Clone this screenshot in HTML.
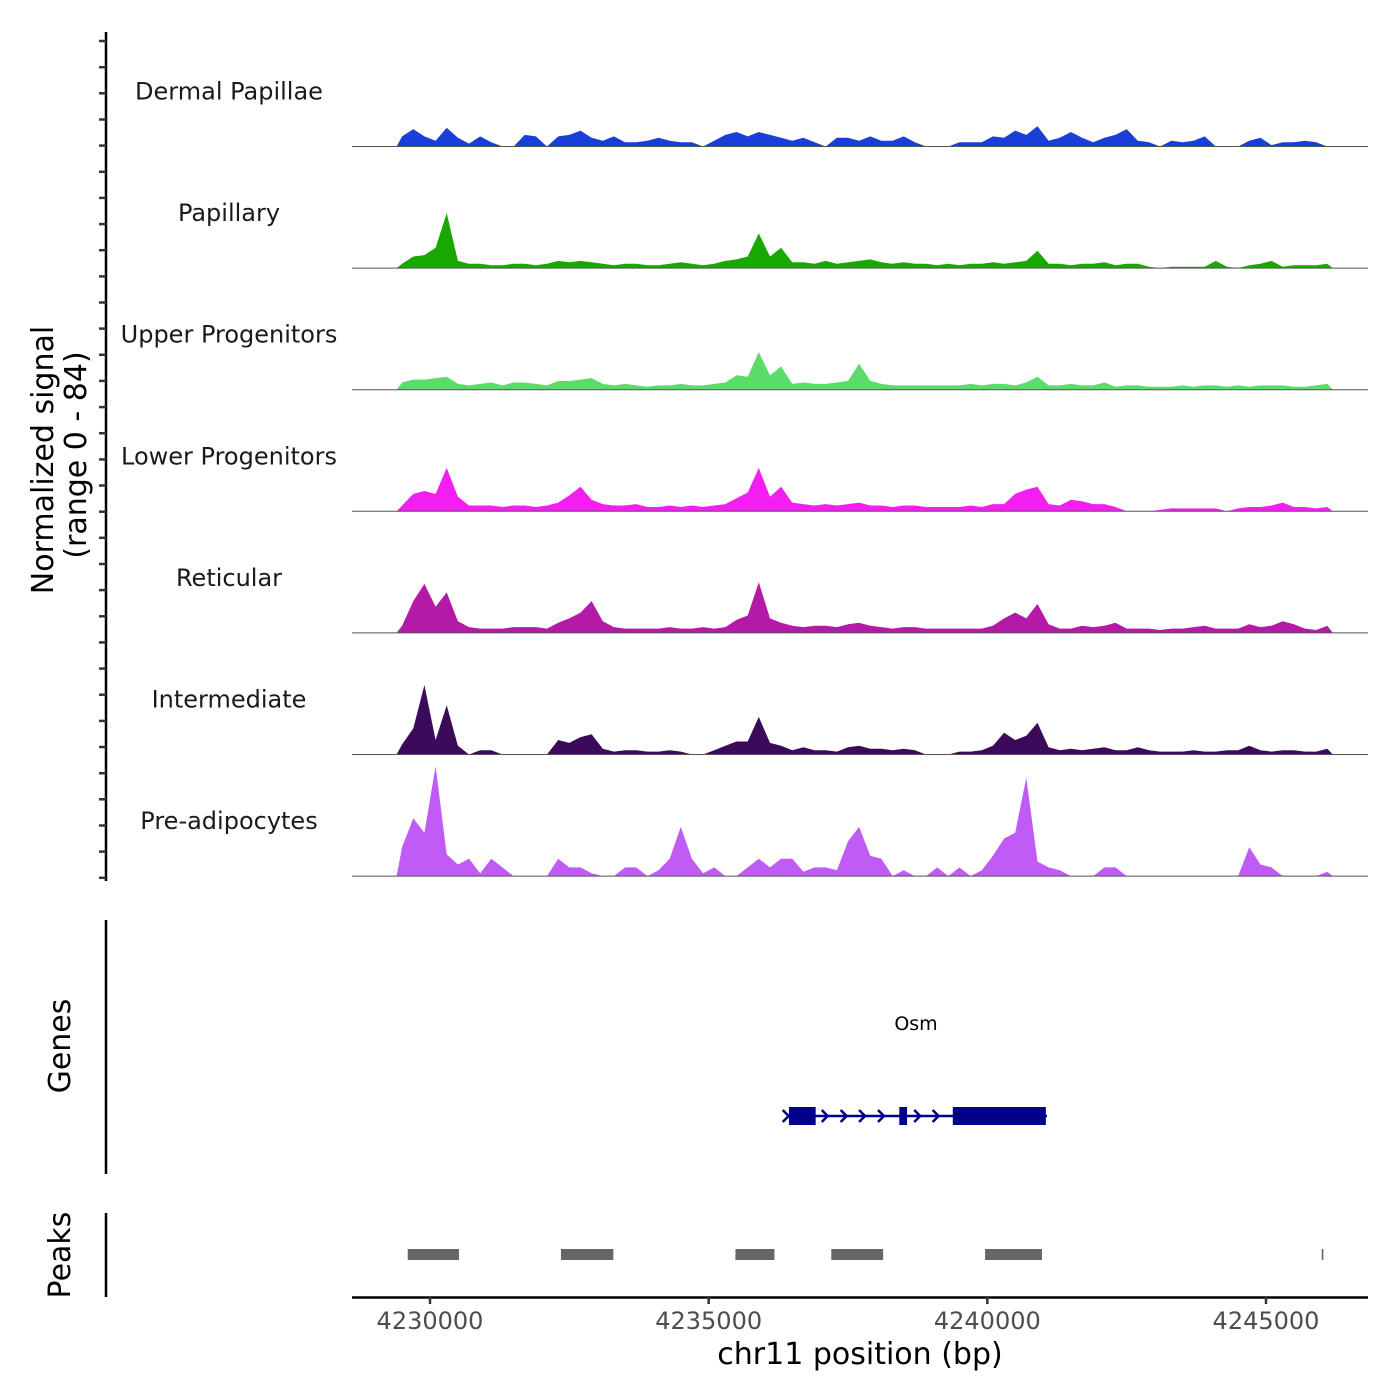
<!DOCTYPE html>
<html><head><meta charset="utf-8">
<style>
html,body{margin:0;padding:0;background:#fff;}
svg{display:block;font-family:"DejaVu Sans","Liberation Sans",sans-serif;}
</style></head>
<body>
<svg id="chart" width="1400" height="1400" viewBox="0 0 1400 1400" xmlns="http://www.w3.org/2000/svg">
<g id="tracks"></g>
<g id="axes"></g>
<g id="genes"></g>
<g id="peaks"></g>
</svg>
<script>
// ---- data ----
const binStart = 4229400;
const binSize = 200;
const trackNames = ["Dermal Papillae","Papillary","Upper Progenitors","Lower Progenitors","Reticular","Intermediate","Pre-adipocytes"];
const trackColors = ["#1a3fd9","#19a800","#5bdc6a","#f21ff0","#b519a8","#3b0b5a","#c05cf5"];
const dermalPapillae = [7,12,7,4,13,6,2,7,3,0,0,8,7,0,7,8,11,6,4,7,3,3,4,6,4,3,3,0,4,8,10,7,10,8,6,4,6,3,0,6,6,4,7,4,4,7,3,0,0,0,3,3,3,7,6,11,8,14,4,6,10,6,3,6,8,12,4,3,0,4,3,4,7,0,0,0,4,6,1,3,3,4,3,0];
const papillary = [3,8,9,14,38,5,3,3,2,2,3,3,2,3,5,4,5,4,3,2,3,3,2,2,3,4,3,2,3,5,6,8,24,8,14,4,4,3,5,3,4,5,6,4,3,4,3,3,2,3,2,3,3,4,3,4,5,12,3,3,2,3,3,4,2,3,3,1,0,1,1,1,1,5,1,0,2,3,5,1,2,2,2,3];
const upperProgenitors = [5,7,7,8,9,4,3,4,5,3,5,5,4,3,6,6,7,8,4,3,4,3,2,3,3,4,3,3,4,5,10,9,26,10,16,4,5,4,4,5,6,18,6,4,3,3,3,3,3,3,3,4,3,4,4,3,5,9,3,3,4,3,3,5,2,3,3,2,2,2,3,2,3,3,2,3,2,3,3,3,2,2,3,4];
const lowerProgenitors = [4,12,14,12,30,10,4,4,4,3,4,4,3,4,6,11,17,8,5,4,4,5,3,3,4,3,4,3,4,5,9,13,30,10,17,6,5,4,5,4,5,6,4,4,3,4,4,3,3,3,3,4,3,5,5,12,15,17,5,4,8,7,5,5,3,0,0,0,1,2,2,2,2,2,0,2,3,3,4,6,3,3,2,3];
const reticular = [5,22,34,18,28,8,4,3,3,3,4,4,4,3,7,10,14,22,8,4,3,3,3,3,4,3,3,4,3,4,9,12,35,10,7,5,4,5,5,4,6,7,5,4,3,4,4,3,3,3,3,3,3,5,10,14,10,20,6,3,3,5,4,5,7,3,3,3,2,3,3,4,5,3,3,3,6,4,5,8,6,3,2,5];
const intermediate = [7,18,48,10,34,6,0,3,3,0,0,0,0,0,10,8,12,14,4,2,3,3,2,2,3,2,0,0,3,6,9,9,26,8,6,3,5,3,3,2,5,6,4,4,3,4,3,0,0,0,2,2,3,6,15,10,13,22,5,3,4,3,4,5,3,3,5,3,2,2,2,3,2,2,3,3,6,3,2,3,3,2,2,4];
const preAdipocytes = [20,40,30,76,15,8,12,2,12,6,0,0,0,0,12,6,6,2,0,0,6,6,0,4,12,34,12,2,6,0,0,6,12,6,12,12,3,6,6,4,24,34,14,12,0,4,0,0,6,0,6,0,4,14,26,30,68,10,6,4,0,0,0,6,6,0,0,0,0,0,0,0,0,0,0,0,20,8,6,0,0,0,0,3];
const trackValues = [dermalPapillae,papillary,upperProgenitors,lowerProgenitors,reticular,intermediate,preAdipocytes];
const xTicks = [4230000,4235000,4240000,4245000];
const xTickLabels = ["4230000","4235000","4240000","4245000"];
const geneName = "Osm";
const geneStart = 4236400;
const geneEnd = 4241070;
const exonStarts = [4236440,4238420,4239380];
const exonEnds = [4236920,4238560,4241050];
const intronArrows = [4237100,4237440,4237770,4238110,4238760,4239090];
const peakStarts = [4229600,4232350,4235480,4237200,4239960,4246000];
const peakEnds = [4230520,4233290,4236180,4238130,4240980,4246030];

// ---- scales ----
const X0 = 430, PXBP = (1266-430)/15000;
function xs(bp){return X0+(bp-4230000)*PXBP;}
const trackH = 121.6, firstBase = 146.5, vmax = 84;
function ys(v,k){return firstBase+k*trackH - v/vmax*trackH;}
const NS="http://www.w3.org/2000/svg";
function mk(tag,attrs,parent){const e=document.createElementNS(NS,tag);for(const a in attrs)e.setAttribute(a,attrs[a]);parent.appendChild(e);return e;}

const gT=document.getElementById('tracks');
trackValues.forEach((vals,k)=>{
  const base=ys(0,k);
  let d=`M${xs(binStart).toFixed(1)},${base}`;
  vals.forEach((v,i)=>{const x=xs(binStart+binSize*(i+0.5));d+=` L${x.toFixed(1)},${ys(v,k).toFixed(1)}`;});
  d+=` L${xs(binStart+binSize*vals.length).toFixed(1)},${base} Z`;
  const p=mk('path',{d:d,fill:trackColors[k]},gT);
  
  
  const l=mk('line',{x1:352,x2:1368,y1:base,y2:base,stroke:'#555','stroke-width':1},gT);
  
  
  const t=mk('text',{x:229,y:base-55+8,'text-anchor':'middle','font-size':24,fill:'#1a1a1a'},gT);
  t.textContent=trackNames[k];
  
  
});

const gA=document.getElementById('axes');
mk('line',{x1:106,x2:106,y1:32,y2:881,stroke:'#000','stroke-width':2.5},gA);
for(let y=41;y<=878;y+=26.15){mk('line',{x1:99,x2:106,y1:y.toFixed(1),y2:y.toFixed(1),stroke:'#333','stroke-width':2.5},gA);}
mk('line',{x1:106,x2:106,y1:920,y2:1174,stroke:'#000','stroke-width':2.5},gA);
mk('line',{x1:106,x2:106,y1:1213,y2:1297,stroke:'#000','stroke-width':2.5},gA);
mk('line',{x1:352,x2:1368,y1:1297.5,y2:1297.5,stroke:'#000','stroke-width':2.5},gA);
xTicks.forEach((b,i)=>{
  const x=xs(b);
  mk('line',{x1:x,x2:x,y1:1297,y2:1304,stroke:'#333','stroke-width':2.5},gA);
  const t=mk('text',{x:x,y:1329,'text-anchor':'middle','font-size':24,fill:'#4d4d4d'},gA);
  t.textContent=xTickLabels[i];
  
  
});
const xt=mk('text',{x:860,y:1364,'text-anchor':'middle','font-size':30,fill:'#000'},gA);
xt.textContent="chr11 position (bp)";


const y1=mk('text',{x:0,y:0,'text-anchor':'middle','font-size':30,fill:'#000',transform:'translate(53,460) rotate(-90)'},gA);
y1.textContent="Normalized signal";


const y2=mk('text',{x:0,y:0,'text-anchor':'middle','font-size':30,fill:'#000',transform:'translate(86,455) rotate(-90)'},gA);
y2.textContent="(range 0 - 84)";


const gl=mk('text',{x:0,y:0,'text-anchor':'middle','font-size':30,fill:'#000',transform:'translate(70,1046) rotate(-90)'},gA);
gl.textContent="Genes";


const pl=mk('text',{x:0,y:0,'text-anchor':'middle','font-size':30,fill:'#000',transform:'translate(70,1255) rotate(-90)'},gA);
pl.textContent="Peaks";



const gG=document.getElementById('genes');
const gy=1116;
mk('line',{x1:xs(geneStart),x2:xs(geneEnd),y1:gy,y2:gy,stroke:'#00008b','stroke-width':2.5},gG);
[geneStart].concat(intronArrows).forEach(b=>{const x=xs(b);mk('polyline',{points:`${x-4},${gy-6} ${x+2},${gy} ${x-4},${gy+6}`,fill:'none',stroke:'#00008b','stroke-width':2.5},gG);});
exonStarts.forEach((s,i)=>{
  const r=mk('rect',{x:xs(s),y:gy-9,width:xs(exonEnds[i])-xs(s),height:18,fill:'#00008b'},gG);
  
  
});
const gn=mk('text',{x:916,y:1030,'text-anchor':'middle','font-size':19,fill:'#000'},gG);
gn.textContent=geneName;



const gP=document.getElementById('peaks');
peakStarts.forEach((s,i)=>{
  const r=mk('rect',{x:xs(s),y:1249,width:Math.max(1.5,xs(peakEnds[i])-xs(s)),height:11,fill:'#666'},gP);
  
  
});
</script>
</body></html>
